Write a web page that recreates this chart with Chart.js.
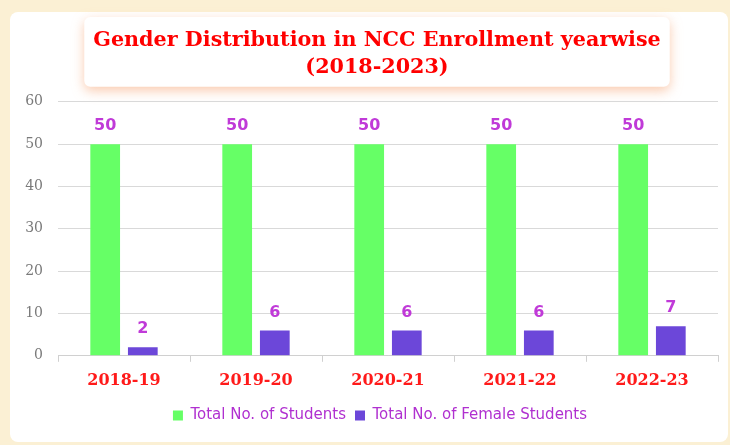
<!DOCTYPE html>
<html lang="en">
<head>
    <meta charset="UTF-8">
    <title>Gender Distribution in NCC Enrollment yearwise</title>
    <script src="https://cdn.jsdelivr.net/npm/chart.js@4"></script>
    <style>
        html, body { margin: 0; padding: 0; background: #fbf0d4; }
        #frame {
            position: absolute; left: 10px; top: 12px; width: 718px; height: 430px;
            background: #ffffff; border-radius: 8px;
        }
        #wrap { position: absolute; left: 0; top: 0; width: 730px; height: 445px; }
    </style>
</head>
<body>
    <div id="frame"></div>
    <div id="wrap"><canvas id="grafica"></canvas></div>

    <script>
        const years = ['2018-19', '2019-20', '2020-21', '2021-22', '2022-23'];
        const totalStudents = [50, 50, 50, 50, 50];
        const femaleStudents = [2, 6, 6, 6, 7];
        const yTicks = [0, 10, 20, 30, 40, 50, 60];

        // title and legend sit a little right of the canvas centre in the original
        const nudge = {
            id: 'nudge',
            afterLayout(chart) {
                if (chart.titleBlock) chart.titleBlock.left += 22;
                if (chart.legend) chart.legend.left += 28;
            }
        };

        // white rounded box with a soft peach shadow behind the title
        const titleBox = {
            id: 'titleBox',
            beforeDraw(chart) {
                const tb = chart.titleBlock;
                if (!tb) return;
                const ctx = chart.ctx;
                const opts = chart.options.plugins.title;
                ctx.save();
                ctx.font = 'bold ' + opts.font.size + 'px ' + opts.font.family;
                const w = Math.max(...opts.text.map(t => ctx.measureText(t).width)) + 18;
                const cx = (tb.left + tb.right) / 2;
                const top = tb.top + opts.padding.top - 10;
                const h = tb.height - opts.padding.top - opts.padding.bottom + 16;
                ctx.shadowColor = 'rgba(245, 160, 110, 0.55)';
                ctx.shadowBlur = 12;
                ctx.shadowOffsetY = 4;
                ctx.fillStyle = '#ffffff';
                ctx.beginPath();
                ctx.roundRect(cx - w / 2, top, w, h, 6);
                ctx.fill();
                ctx.restore();
            }
        };

        // value labels above every bar
        const valueLabels = {
            id: 'valueLabels',
            afterDatasetsDraw(chart) {
                const ctx = chart.ctx;
                ctx.save();
                ctx.font = 'bold 16px "DejaVu Sans"';
                ctx.fillStyle = '#c03ad8';
                ctx.textAlign = 'center';
                ctx.textBaseline = 'bottom';
                chart.data.datasets.forEach((ds, i) => {
                    chart.getDatasetMeta(i).data.forEach((bar, j) => {
                        ctx.fillText(ds.data[j], bar.x, bar.y - 10);
                    });
                });
                ctx.restore();
            }
        };

        new Chart(document.getElementById('grafica'), {
            type: 'bar',
            data: {
                labels: years,
                datasets: [{
                    label: 'Total No. of Students',
                    data: totalStudents,
                    backgroundColor: '#66ff66'
                }, {
                    label: 'Total No. of Female Students',
                    data: femaleStudents,
                    backgroundColor: '#6c47d9'
                }]
            },
            options: {
                responsive: true,
                maintainAspectRatio: false,
                animation: false,
                categoryPercentage: 0.57,
                barPercentage: 0.79,
                layout: { padding: { left: 14, right: 12, top: 13, bottom: 12 } },
                plugins: {
                    title: {
                        display: true,
                        text: ['Gender Distribution in NCC Enrollment yearwise', '(2018-2023)'],
                        color: '#ff0000',
                        font: { family: '"DejaVu Serif"', size: 20.7, weight: 'bold', lineHeight: 1.3 },
                        padding: { top: 14, bottom: 21 }
                    },
                    legend: {
                        position: 'bottom',
                        labels: {
                            boxWidth: 10,
                            boxHeight: 10,
                            padding: 9,
                            color: '#b030d0',
                            font: { family: '"DejaVu Sans"', size: 15 }
                        }
                    },
                    tooltip: { enabled: false }
                },
                scales: {
                    x: {
                        grid: { drawOnChartArea: false, color: '#d0d0d0', tickLength: 6 },
                        border: { color: '#d0d0d0' },
                        ticks: {
                            color: '#ff1a1a',
                            font: { family: '"DejaVu Serif"', size: 16, weight: 'bold' },
                            padding: 9
                        }
                    },
                    y: {
                        min: 0,
                        max: 60,
                        afterBuildTicks(axis) { axis.ticks = yTicks.map(v => ({ value: v })); },
                        afterFit(axis) { axis.width = 44; },
                        grid: { color: '#d9d9d9', drawTicks: false },
                        border: { display: false },
                        ticks: {
                            color: '#7a7a7a',
                            font: { family: '"DejaVu Serif"', size: 14 },
                            padding: 15
                        }
                    }
                }
            },
            plugins: [nudge, titleBox, valueLabels]
        });
    </script>
</body>
</html>
